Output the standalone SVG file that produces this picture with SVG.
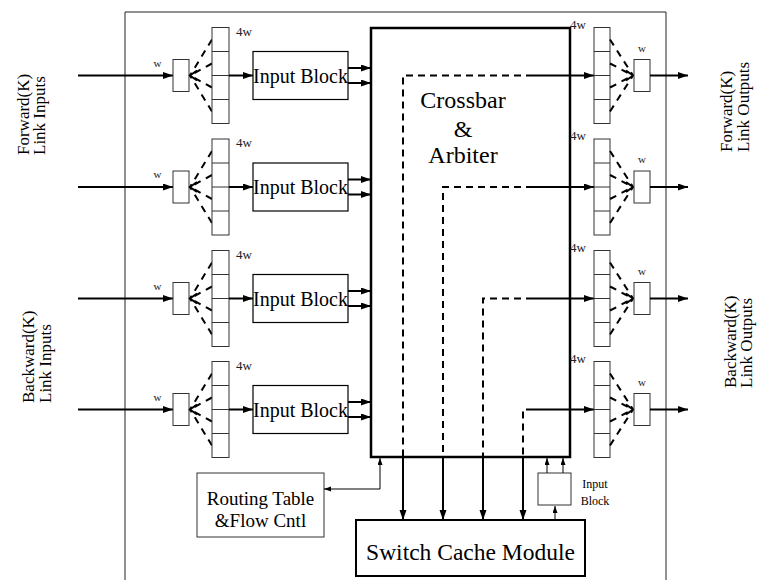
<svg xmlns="http://www.w3.org/2000/svg" width="757" height="580" viewBox="0 0 757 580" font-family="'Liberation Serif','Times New Roman',serif">
<style>
text{font-family:"Liberation Serif","Times New Roman",serif;fill:#000}
.thin{fill:#fff;stroke:#333;stroke-width:1}
.blk{fill:#fff;stroke:#000;stroke-width:1.2}
.ar{fill:none;stroke:#000;stroke-width:2;marker-end:url(#ah)}
.ars{fill:none;stroke:#000;stroke-width:1;marker-end:url(#ahs)}
.dash{fill:none;stroke:#000;stroke-width:2;stroke-dasharray:7 5}
.fan{fill:none;stroke:#000;stroke-width:2;stroke-dasharray:7 6}
.chev{fill:none;stroke:#000;stroke-width:2}
.lbl{font-size:17px}
.ib{font-size:20px;text-anchor:middle}
.w{font-size:11px;text-anchor:middle;fill:#222}
.w4{font-size:13px;fill:#222}
</style>
<defs>
<marker id="ah" markerUnits="userSpaceOnUse" markerWidth="11" markerHeight="8" refX="10" refY="3.5" orient="auto"><path d="M0,0 L10,3.5 L0,7 z" fill="#000"/></marker>
<marker id="ahs" markerUnits="userSpaceOnUse" markerWidth="8" markerHeight="6" refX="7" refY="2.5" orient="auto-start-reverse"><path d="M0,0 L7,2.5 L0,5 z" fill="#000"/></marker>
<g id="inrow">
<path class="ar" d="M78,0 H173"/>
<text class="w" x="157.5" y="-9">w</text>
<rect class="thin" x="173" y="-16" width="16" height="32"/>
<path class="fan" d="M212,-36 L190,0"/>
<path class="fan" d="M212,-12 L190,0"/>
<path class="fan" d="M212,12 L190,0"/>
<path class="fan" d="M212,36 L190,0"/>
<polyline class="chev" points="197,-5 190,0 197,5"/>
<rect class="thin" x="212" y="-48" width="17" height="96"/>
<path stroke="#333" stroke-width="1" d="M212,-24 H229 M212,0 H229 M212,24 H229"/>
<text class="w4" x="236" y="-40">4w</text>
<path class="ar" d="M229,0 H253"/>
<rect class="blk" x="253" y="-24" width="95" height="48"/>
<text class="ib" x="300.5" y="7">Input Block</text>
<path class="ar" d="M348,-7.5 H371"/>
<path class="ar" d="M348,7.5 H371"/>
</g>
<g id="outrow">
<path class="ar" d="M533,0 H594"/>
<rect class="thin" x="594" y="-48" width="16" height="96"/>
<path stroke="#333" stroke-width="1" d="M594,-24 H610 M594,0 H610 M594,24 H610"/>
<text class="w4" x="570" y="-47">4w</text>
<path class="fan" d="M610,-36 L633,0"/>
<path class="fan" d="M610,-12 L633,0"/>
<path class="fan" d="M610,12 L633,0"/>
<path class="fan" d="M610,36 L633,0"/>
<polyline class="chev" points="626,-5 633,0 626,5"/>
<rect class="thin" x="634" y="-16" width="16" height="32"/>
<text class="w" x="642" y="-24">w</text>
<path class="ar" d="M650,0 H688"/>
</g>
</defs>

<path id="border" d="M125,590 V12 H666 V590" fill="none" stroke="#222" stroke-width="1"/>

<g id="labels">
<text class="lbl" transform="translate(29,155) rotate(-90)">Forward(K)<tspan x="0" dy="16">Link Inputs</tspan></text>
<text class="lbl" transform="translate(34,403) rotate(-90)">Backward(K)<tspan x="0" dy="17">Link Inputs</tspan></text>
<text class="lbl" transform="translate(732,152) rotate(-90)">Forward(K)<tspan x="0" dy="17">Link Outputs</tspan></text>
<text class="lbl" transform="translate(736,388) rotate(-90)">Backward(K)<tspan x="0" dy="16">Link Outputs</tspan></text>
</g>

<g id="in1"><use href="#inrow" transform="translate(0,75.5)"/></g>
<g id="in2"><use href="#inrow" transform="translate(0,187)"/></g>
<g id="in3"><use href="#inrow" transform="translate(0,298.5)"/></g>
<g id="in4"><use href="#inrow" transform="translate(0,409.5)"/></g>

<g id="crossbar">
<rect x="371" y="28" width="199" height="429" fill="none" stroke="#000" stroke-width="2.5"/>
<text x="463" y="108" font-size="24" text-anchor="middle">Crossbar</text>
<text x="463" y="137" font-size="24" text-anchor="middle">&amp;</text>
<text x="463" y="163" font-size="24" text-anchor="middle">Arbiter</text>
</g>

<g id="out1"><use href="#outrow" transform="translate(0,75.5)"/></g>
<g id="out2"><use href="#outrow" transform="translate(0,187)"/></g>
<g id="out3"><use href="#outrow" transform="translate(0,298.5)"/></g>
<g id="out4"><use href="#outrow" transform="translate(0,409.5)"/></g>

<g id="routing">
<rect class="thin" x="197" y="473" width="127" height="64"/>
<text x="260.5" y="505" font-size="19" text-anchor="middle">Routing Table</text>
<text x="260.5" y="527" font-size="19" text-anchor="middle">&amp;Flow Cntl</text>
</g>

<g id="cache">
<rect x="356" y="520" width="229" height="56" fill="#fff" stroke="#000" stroke-width="2"/>
<text x="470.5" y="560" font-size="23.5" text-anchor="middle">Switch Cache Module</text>
</g>

<g id="smallib">
<rect class="thin" x="538" y="473" width="33" height="32"/>
<text x="595" y="488" font-size="12" text-anchor="middle">Input</text>
<text x="595" y="505" font-size="12" text-anchor="middle">Block</text>
</g>

<g id="connectors">
<path class="dash" d="M533,75.5 H403 V457"/>
<path class="dash" d="M533,187 H443 V457"/>
<path class="dash" d="M533,298.5 H483 V457"/>
<path class="dash" d="M533,409.5 H523 V457"/>
<path class="ar" d="M403,457 V520"/>
<path class="ar" d="M443,457 V520"/>
<path class="ar" d="M483,457 V520"/>
<path class="ar" d="M523,457 V520"/>
<path d="M324,489 H380 V458" fill="none" stroke="#000" stroke-width="1" marker-start="url(#ahs)" marker-end="url(#ahs)"/>
<path class="ars" d="M547,473 V458"/>
<path class="ars" d="M563,473 V458"/>
<path class="ars" d="M555,520 V506"/>
</g>
</svg>
